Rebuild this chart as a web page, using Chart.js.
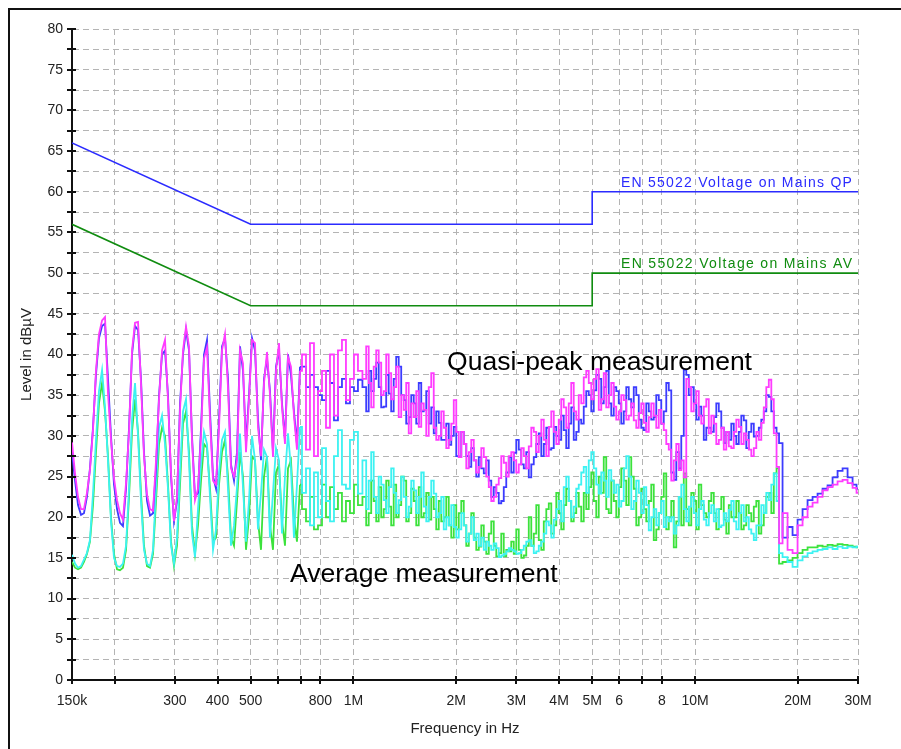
<!DOCTYPE html>
<html>
<head>
<meta charset="utf-8">
<script src="https://cdn.jsdelivr.net/npm/chart.js@4.4.1/dist/chart.umd.min.js"></script>
<style>
html,body{margin:0;padding:0;background:#fff;}
#wrap{width:901px;height:749px;position:relative;}
canvas{display:block;}
</style>
</head>
<body>
<div id="wrap"><canvas id="c" width="901" height="749"></canvas></div>
<script>
// ---------------- DATA ----------------
// Main measurement frequencies (MHz)
const freqMHz = [
0.1500,0.1531,0.1562,0.1594,0.1626,0.1659,0.1693,0.1728,0.1763,0.1799,
0.1837,0.1874,0.1912,0.1951,0.1991,0.2032,0.2073,0.2115,0.2159,0.2203,
0.2248,0.2294,0.2341,0.2388,0.2437,0.2487,0.2538,0.2590,0.2643,0.2697,
0.2752,0.2808,0.2865,0.2924,0.2983,0.3044,0.3107,0.3170,0.3235,0.3301,
0.3368,0.3437,0.3507,0.3579,0.3652,0.3727,0.3803,0.3881,0.3960,0.4041,
0.4123,0.4207,0.4293,0.4381,0.4471,0.4562,0.4655,0.4750,0.4847,0.4946,
0.5048,0.5151,0.5256,0.5363,0.5473,0.5584,0.5698,0.5814,0.5933,0.6054,
0.6178,0.6304,0.6433,0.6563,0.6697,0.6834,0.6975,
0.7166,0.7361,0.7561,0.7768,0.7982,0.8200,0.8424,0.8653,0.8889,0.9131,0.9381,0.9637,0.9902,1.0172,1.0448,
1.0806,1.1178,1.1561,1.1957,1.2367,1.2790,1.3228,1.3684,1.4153,1.4640,
1.5142,1.5662,1.6199,1.6754,1.7328,1.7924,1.8538,1.9175,1.9832,2.0513,
2.1216,2.1944,2.2696,2.3476,2.4281,2.5110,2.5971,2.6859,2.7780,2.8733,
2.9718,3.0738,3.1792,3.2882,3.4009,3.5177,3.6383,3.7629,3.8919,4.0240,
4.1619,4.3049,4.4525,4.6052,4.7630,4.9268,5.0957,5.2701,
5.4507,5.6378,5.8311,6.0311,6.2378,6.4517,6.6728,6.9015,7.1381,7.3830,
7.6361,7.8980,8.1687,8.4491,8.7387,9.0383,9.3481,9.6687,10.000,10.343,
10.698,11.065,11.444,11.837,12.243,12.662,13.096,13.545,14.009,14.491,
14.988,15.501,16.032,16.583,17.151,17.501,17.739,18.347,18.977,19.627,
20.301,20.997,21.717,22.461,23.232,24.028,24.852,25.703,26.586,27.497,
28.441,29.416,30.000
];

// Quasi-peak trace (magenta), dBuV
const qpMagenta = [
29.2,25.4,22.5,21.0,21.0,23.0,25.8,30.7,38.0,42.5,
44.2,44.6,35.2,29.5,24.8,22.1,20.5,19.7,24.2,30.5,
40.5,43.9,44.0,36.5,27.5,22.8,21.0,20.8,27.0,34.5,
40.5,41.8,34.4,25.5,19.5,22.5,33.2,40.5,43.4,41.0,
29.5,22.1,23.5,30.0,39.5,40.9,32.0,24.5,24.0,31.0,
40.5,42.5,36.0,26.0,25.0,27.0,40.5,38.9,28.0,34.5,
41.8,41.4,31.0,27.5,36.5,40.3,35.0,27.4,38.0,41.4,
33.6,29.0,39.7,38.5,32.5,28.3,38.0,
40.0,28.3,41.4,27.5,35.5,38.0,31.0,40.0,32.5,40.5,41.8,34.4,37.0,40.0,38.0,
37.0,36.5,38.5,39.0,35.5,37.7,36.0,32.3,33.2,30.3,
32.3,31.1,33.2,36.0,31.0,30.0,31.0,29.5,34.4,27.4,
29.0,28.0,27.0,26.2,27.4,23.7,22.5,24.8,26.7,27.5,
27.0,26.5,27.5,28.7,30.5,30.0,29.5,31.1,30.5,32.0,
33.5,34.0,33.0,35.0,37.2,36.5,37.0,33.2,
37.7,35.0,33.6,33.0,34.4,32.5,31.9,32.8,31.6,32.3,
32.5,33.2,30.7,28.3,27.0,25.8,24.9,36.0,34.0,32.5,
33.6,30.3,31.5,29.5,28.3,28.7,30.5,31.1,30.3,28.3,
28.5,29.5,33.5,36.9,30.3,26.2,16.8,20.5,16.0,15.6,
19.0,20.0,21.3,21.8,22.5,23.3,23.7,24.0,24.4,24.6,
24.2,23.6,23.0
];

// Quasi-peak trace (blue), dBuV
const qpBlue = [
28.0,24.5,21.5,20.3,20.5,22.5,26.0,31.0,37.5,42.0,
43.5,43.8,37.0,30.0,24.0,21.0,19.3,18.9,23.5,31.0,
40.0,43.5,43.0,37.0,28.0,22.0,20.2,20.5,26.0,35.0,
40.0,40.5,35.0,25.0,19.5,22.0,34.0,40.0,43.0,40.5,
30.0,22.5,23.0,31.0,40.0,41.8,33.0,25.0,23.5,32.0,
41.0,42.0,37.0,26.5,24.5,28.0,41.0,38.0,29.0,35.0,
42.0,40.5,32.0,27.0,37.0,39.5,35.5,28.0,38.5,40.5,
34.0,29.5,40.0,37.5,33.0,29.0,38.5,
38.5,36.0,37.5,36.0,35.0,34.4,38.0,36.5,31.9,36.0,37.0,34.0,36.0,35.5,36.9,
36.0,38.0,37.0,36.0,33.6,35.2,37.0,38.5,34.4,32.3,
34.0,36.5,33.2,31.5,30.3,31.6,29.5,28.9,31.1,27.4,
29.0,26.2,27.0,27.4,25.4,24.5,23.7,21.7,23.7,27.4,
27.9,28.3,26.0,24.9,27.4,30.3,29.0,28.3,31.1,29.5,
30.7,31.5,29.5,32.0,33.6,35.0,35.6,37.0,
36.0,34.0,36.0,34.0,33.0,34.5,36.0,32.0,30.7,33.0,
32.3,34.4,33.0,35.6,24.6,26.0,38.1,35.0,34.0,33.6,
29.5,31.0,32.3,33.0,29.1,29.5,30.0,30.5,31.9,30.5,
29.9,31.0,33.0,34.8,31.0,30.3,29.1,17.5,18.8,17.8,
19.7,21.0,22.1,22.5,22.9,23.5,23.9,24.9,25.7,26.0,
24.9,24.0,23.5
];

// Average trace (cyan), dBuV
const avCyan = [
15.4,14.3,13.8,14.0,14.8,15.6,17.2,22.9,29.5,35.5,
38.1,33.5,27.0,19.5,15.0,14.0,13.9,14.3,16.5,23.5,
32.0,36.5,30.0,22.0,16.0,14.3,14.0,16.0,23.5,31.0,
32.5,29.0,23.5,16.5,14.3,17.5,25.5,33.0,34.5,27.0,
18.0,15.1,21.0,26.5,30.5,29.0,22.5,16.0,18.5,25.5,
29.5,30.5,23.5,16.5,19.0,23.7,30.3,23.7,17.0,22.0,
30.0,27.0,18.5,23.0,28.3,27.4,17.5,23.0,28.5,27.0,
18.0,25.0,30.3,26.0,17.5,24.0,31.1,
23.0,26.0,19.0,25.5,20.0,28.5,22.0,19.5,27.5,30.7,24.0,23.5,29.5,30.5,22.9,
27.0,24.5,22.5,25.0,22.1,23.7,23.0,22.1,22.5,21.3,
23.3,22.5,21.3,22.5,22.9,20.5,18.5,19.0,18.8,18.5,
19.0,18.0,17.2,16.5,16.0,16.5,16.8,15.1,15.5,16.2,
15.8,15.6,16.5,17.2,15.6,16.5,18.0,19.0,19.7,22.0,
23.7,22.0,21.3,24.0,26.2,27.0,26.0,22.9,
24.5,25.8,23.0,21.3,26.0,25.0,22.0,23.0,23.7,18.4,
21.0,20.5,18.8,19.5,18.0,22.5,21.0,21.3,20.5,21.0,
19.7,20.5,19.5,18.8,20.5,20.9,19.5,20.5,19.5,18.5,
17.2,19.0,20.5,22.1,25.4,22.0,15.6,15.1,14.5,13.9,
14.7,15.2,15.6,15.8,16.0,16.1,16.3,16.1,16.4,16.2,
16.4,16.3,16.4
];

// Average trace (green), dBuV
const avGreen = [
14.5,13.8,13.6,13.8,14.5,15.5,17.0,21.5,28.0,34.0,
36.5,33.0,27.5,20.0,15.5,13.6,13.5,13.8,16.0,22.5,
30.5,34.5,30.5,23.0,16.5,14.0,13.8,15.5,22.0,29.0,
31.0,30.0,24.0,17.0,14.0,16.5,24.0,31.5,33.0,28.0,
19.0,15.5,19.0,24.5,29.0,28.5,23.5,17.0,17.5,24.0,
28.0,29.5,25.0,17.5,16.5,22.0,28.0,25.0,16.0,20.0,
27.5,27.0,19.5,16.0,25.0,27.5,19.0,16.0,25.5,26.5,
19.5,16.5,26.0,27.0,20.0,17.0,24.0,
21.0,19.5,22.5,18.5,19.0,24.0,20.0,23.7,21.0,23.0,19.5,22.0,20.5,24.0,21.5,
22.5,20.5,22.0,23.7,21.0,21.3,24.0,21.5,24.5,20.5,
22.0,23.7,20.5,19.7,21.0,22.0,20.0,19.0,21.5,20.5,
19.0,18.0,17.5,16.4,17.0,18.0,16.5,15.6,15.2,15.8,
15.5,16.0,15.3,20.0,18.0,17.2,19.5,21.7,19.0,20.5,
21.5,22.0,20.5,21.3,23.0,23.7,22.0,25.0,
27.4,20.5,22.0,23.7,24.5,27.4,23.5,20.0,21.0,22.0,
17.2,20.5,25.4,20.0,16.3,22.5,25.4,19.0,22.0,24.0,
20.5,22.0,20.5,21.0,19.7,21.5,20.0,20.5,19.0,20.5,
21.3,18.0,20.5,23.0,25.4,26.0,14.3,14.5,14.7,15.0,
15.6,16.0,16.3,16.3,16.5,16.4,16.6,16.5,16.7,16.6,
16.5,16.4,16.3
];

// Extra in-between sweep points in the noisy 1.1 - 16.9 MHz band (MHz)
const freqMidMHz = [
1.0990,1.1368,1.1758,1.2160,1.2577,1.3007,1.3453,1.3917,1.4394,1.4889,
1.5399,1.5928,1.6474,1.7039,1.7623,1.8229,1.8853,1.9501,2.0169,2.0862,
2.1577,2.2317,2.3082,2.3875,2.4694,2.5537,2.6413,2.7316,2.8252,2.9221,
3.0223,3.1261,3.2332,3.3441,3.4587,3.5775,3.7002,3.8269,3.9581,4.0924,
4.2327,4.3781,4.5282,4.6835,4.8440,5.0106,5.1823,5.3597,5.5434,5.7336,
5.9302,6.1336,6.3438,6.5614,6.7862,7.0188,7.2594,7.5085,7.7659,8.0323,
8.3076,8.5927,8.8873,9.1920,9.5070,9.8331,10.170,10.519,10.880,11.253,
11.639,12.038,12.451,12.877,13.319,13.775,14.247,14.737,15.243,15.765,
16.305,16.865
];
const qpMagentaMid = [
41.0,33.5,40.5,35.0,40.0,34.5,38.5,35.0,36.5,34.0,
35.5,34.0,30.0,37.7,29.5,33.0,28.5,31.5,30.5,30.5,
26.0,29.5,25.5,28.5,25.0,22.0,24.0,27.5,25.0,28.0,
25.5,28.5,26.0,31.0,28.0,32.0,27.5,33.0,29.0,34.5,
31.0,36.5,32.0,34.0,38.0,34.5,38.2,34.5,33.5,36.5,
32.0,35.0,32.0,34.0,31.0,34.0,30.5,34.0,31.0,31.5,
29.0,24.5,29.0,27.0,37.0,33.0,35.5,31.5,34.5,32.5,
29.0,31.0,30.5,28.5,32.0,29.0,29.5,27.5,30.5,31.6,
36.0,34.5
];
const qpBlueMid = [
33.0,35.5,39.0,33.5,37.5,33.0,39.7,35.0,31.5,35.0,
31.5,33.0,35.5,33.5,33.0,29.5,31.5,30.0,27.5,30.5,
27.5,28.5,25.0,26.0,27.0,22.5,23.0,22.0,25.5,25.5,
29.5,26.5,28.0,26.5,29.0,27.5,31.0,28.5,30.0,32.5,
28.5,33.5,30.5,31.5,35.5,33.0,37.5,34.0,38.0,32.5,
35.5,31.5,36.0,33.5,35.0,31.0,34.0,32.0,35.0,31.5,
36.5,25.5,28.0,30.0,37.5,36.0,32.0,32.5,31.0,30.5,
34.0,31.0,30.5,31.5,29.0,32.5,28.5,31.5,30.0,32.0,
35.0,33.0
];
const avCyanMid = [
21.0,28.0,20.5,24.0,20.5,26.0,20.5,25.0,20.0,24.5,
20.5,25.5,19.5,24.5,20.0,22.5,20.0,21.5,17.5,20.5,
17.0,20.0,18.0,17.5,17.0,16.0,16.2,15.3,15.8,16.0,
15.5,16.0,17.0,16.5,15.8,17.0,19.5,17.5,21.0,19.5,
25.0,20.0,23.5,25.5,23.0,28.0,24.0,25.5,22.5,24.5,
24.0,22.0,27.5,21.0,24.5,20.5,21.5,20.0,19.0,22.0,
20.0,20.0,19.0,24.0,19.5,22.5,19.0,22.0,19.0,21.5,
21.0,19.0,19.5,22.0,18.5,21.5,20.0,18.0,19.0,21.5,
23.0,24.0
];
const avGreenMid = [
19.0,24.5,19.5,20.0,24.5,19.0,20.0,25.0,19.5,23.5,
19.0,20.0,23.0,22.5,18.5,19.5,22.5,17.5,18.5,22.0,
16.5,20.5,16.0,19.0,15.5,19.5,15.2,18.0,16.0,17.0,
18.5,15.0,16.5,16.5,21.5,16.0,21.0,18.0,23.0,18.5,
23.5,19.5,23.0,19.5,21.0,25.5,20.0,23.0,21.0,24.5,
20.0,26.0,21.5,25.0,19.0,23.5,19.5,24.0,18.5,22.5,
18.5,22.0,19.5,19.0,21.0,23.0,18.5,21.5,20.0,23.0,
18.5,22.5,18.0,20.0,22.0,18.5,21.5,19.5,22.0,19.0,
22.5,20.5
];

// EN 55022 limit lines
const limitFreqMHz = [0.15, 0.5, 5, 5, 30];
const limitQP = [66, 56, 56, 60, 60];
const limitAV = [56, 46, 46, 50, 50];
const limitNames = ['EN 55022 Voltage on Mains QP', 'EN 55022 Voltage on Mains AV'];

// Axis ticks
const xTickValues = [0.15,0.2,0.3,0.4,0.5,0.6,0.7,0.8,1,2,3,4,5,6,7,8,10,20,30];
const xTickLabels = ['150k','','300','400','500','','','800','1M','2M','3M','4M','5M','6','','8','10M','20M','30M'];
const yTickValues = [0,2.5,5,7.5,10,12.5,15,17.5,20,22.5,25,27.5,30,32.5,35,37.5,40,42.5,45,47.5,50,52.5,55,57.5,60,62.5,65,67.5,70,72.5,75,77.5,80];

// Annotations
const noteTexts = ['Quasi-peak measurement', 'Average measurement'];
const noteFreqMHz = [1.88, 0.652];
const noteLevel = [38.1, 12.0];

// ---------------- CHART ----------------
const FONT = 'Arial, "Liberation Sans", Helvetica, sans-serif';
Chart.defaults.font.family = FONT;
const SPLIT = 76; // index of 0.6975 MHz: harmonic region (smooth) / noisy region (stepped)

function pts(f, v) { return f.map((x, i) => ({x: x, y: v[i]})); }
function lowPart(v) { return pts(freqMHz.slice(0, SPLIT + 1), v.slice(0, SPLIT + 1)); }
function highPart(v, vMid) {
  return pts(freqMHz.slice(SPLIT), v.slice(SPLIT)).concat(pts(freqMidMHz, vMid)).sort((a, b) => a.x - b.x);
}

const decor = {
  id: 'decor',
  beforeDraw(chart) {
    const ctx = chart.ctx;
    ctx.save();
    ctx.fillStyle = '#ffffff';
    ctx.fillRect(0, 0, chart.width, chart.height);
    ctx.restore();
  },
  afterDraw(chart) {
    const ctx = chart.ctx;
    const xs = chart.scales.x, ys = chart.scales.y;
    ctx.save();
    // outer frame (top + left)
    ctx.strokeStyle = '#111';
    ctx.lineWidth = 2;
    ctx.beginPath();
    ctx.moveTo(9, chart.height);
    ctx.lineTo(9, 9);
    ctx.lineTo(chart.width, 9);
    ctx.stroke();
    // tick marks crossing the axes
    const ax = chart.chartArea.left, ay = chart.chartArea.bottom;
    ctx.lineWidth = 2;
    ys.ticks.forEach(t => {
      const y = Math.round(ys.getPixelForValue(t.value));
      ctx.beginPath(); ctx.moveTo(ax - 5, y); ctx.lineTo(ax + 4, y); ctx.stroke();
    });
    xs.ticks.forEach(t => {
      const x = Math.round(xs.getPixelForValue(t.value));
      ctx.beginPath(); ctx.moveTo(x, ay - 4); ctx.lineTo(x, ay + 4); ctx.stroke();
    });
    // limit line labels
    const limColors = ['#2b2bff', '#108c10'];
    const limLevels = [limitQP[limitQP.length - 1], limitAV[limitAV.length - 1]];
    ctx.font = '14px ' + FONT;
    ctx.textBaseline = 'alphabetic';
    ctx.textAlign = 'left';
    const target = 231;
    limitNames.forEach((txt, i) => {
      if ('letterSpacing' in ctx) ctx.letterSpacing = '0px';
      const w0 = ctx.measureText(txt).width;
      if ('letterSpacing' in ctx) ctx.letterSpacing = ((target - w0) / (txt.length - 1)).toFixed(2) + 'px';
      const right = xs.getPixelForValue(limitFreqMHz[limitFreqMHz.length - 1]) - 6;
      const base = ys.getPixelForValue(limLevels[i]) - 5;
      ctx.fillStyle = limColors[i];
      ctx.fillText(txt, right - target, base);
    });
    if ('letterSpacing' in ctx) ctx.letterSpacing = '0px';
    // measurement notes
    ctx.font = '26.5px ' + FONT;
    ctx.fillStyle = '#000';
    noteTexts.forEach((txt, i) => {
      ctx.fillText(txt, xs.getPixelForValue(noteFreqMHz[i]), ys.getPixelForValue(noteLevel[i]));
    });
    ctx.restore();
  }
};

const gridCfg = { color: '#b4b4b4', lineWidth: 1, drawTicks: false };
const borderCfg = { display: true, color: '#111', width: 2, dash: [6, 4] };
const TW = 1.8;
const C_MAG = '#ff3cff', C_BLU = '#3c3cff', C_CYA = '#3cf2f2', C_GRN = '#3ce23c';

new Chart(document.getElementById('c'), {
  type: 'line',
  data: {
    datasets: [
      { label: 'QP magenta', data: lowPart(qpMagenta), borderColor: C_MAG, borderWidth: TW },
      { label: 'QP magenta ', data: highPart(qpMagenta, qpMagentaMid), borderColor: C_MAG, borderWidth: TW, stepped: 'middle' },
      { label: 'QP blue', data: lowPart(qpBlue), borderColor: C_BLU, borderWidth: TW },
      { label: 'QP blue ', data: highPart(qpBlue, qpBlueMid), borderColor: C_BLU, borderWidth: TW, stepped: 'middle' },
      { label: 'AV cyan', data: lowPart(avCyan), borderColor: C_CYA, borderWidth: TW },
      { label: 'AV cyan ', data: highPart(avCyan, avCyanMid), borderColor: C_CYA, borderWidth: TW, stepped: 'middle' },
      { label: 'AV green', data: lowPart(avGreen), borderColor: C_GRN, borderWidth: TW },
      { label: 'AV green ', data: highPart(avGreen, avGreenMid), borderColor: C_GRN, borderWidth: TW, stepped: 'middle' },
      { label: limitNames[0], data: pts(limitFreqMHz, limitQP), borderColor: '#2b2bff', borderWidth: 1.6 },
      { label: limitNames[1], data: pts(limitFreqMHz, limitAV), borderColor: '#108c10', borderWidth: 1.6 }
    ]
  },
  options: {
    responsive: false,
    animation: false,
    devicePixelRatio: 1,
    layout: { padding: { left: 0, top: 29, right: 43, bottom: 0 } },
    elements: { point: { radius: 0 }, line: { tension: 0, fill: false } },
    plugins: { legend: { display: false }, tooltip: { enabled: false } },
    scales: {
      x: {
        type: 'logarithmic',
        min: 0.15, max: 30,
        afterFit(s) { s.height = 69; },
        afterBuildTicks(s) { s.ticks = xTickValues.map(v => ({ value: v })); },
        ticks: {
          autoSkip: false, maxRotation: 0, minRotation: 0, padding: 13,
          color: '#222', font: { size: 14 },
          callback: (v, i) => (xTickLabels[i] !== undefined ? xTickLabels[i] : '')
        },
        grid: gridCfg,
        border: borderCfg,
        title: { display: true, text: 'Frequency in Hz', color: '#222', font: { size: 15 }, padding: { top: 0, bottom: 11 } }
      },
      y: {
        type: 'linear',
        min: 0, max: 80,
        afterFit(s) { s.width = 72; },
        afterBuildTicks(s) { s.ticks = yTickValues.map(v => ({ value: v })); },
        ticks: {
          autoSkip: false, padding: 9, color: '#222', font: { size: 14 },
          callback: (v) => (v % 5 === 0 ? String(v) : '')
        },
        grid: gridCfg,
        border: borderCfg,
        title: { display: true, text: 'Level in dBµV', color: '#222', font: { size: 15 }, padding: { top: 18, bottom: 0 } }
      }
    }
  },
  plugins: [decor]
});
</script>
</body>
</html>
